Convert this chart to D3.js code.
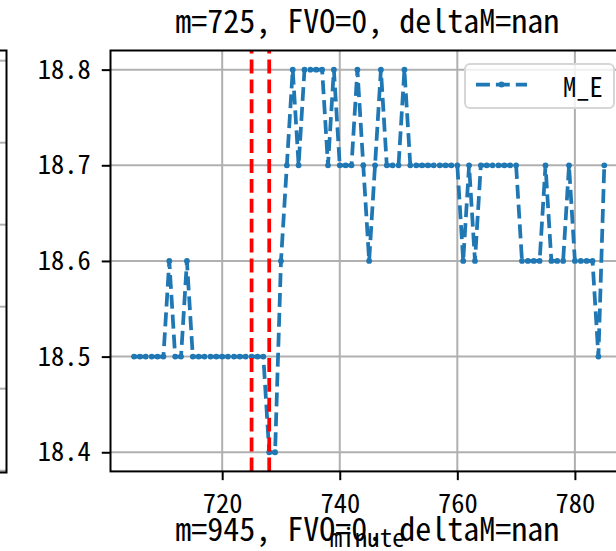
<!DOCTYPE html>
<html>
<head>
<meta charset="utf-8">
<script src="https://cdn.jsdelivr.net/npm/d3@7"></script>
<style>
  html, body { margin: 0; padding: 0; background: #fff; }
  svg { display: block; }
  text { font-family: 'Noto Sans Mono CJK SC', 'Noto Sans CJK SC', 'DejaVu Sans Mono', monospace; fill: #000; }
</style>
</head>
<body>
<svg id="chart" width="616" height="551"></svg>
<script>
// ---- data ----
const minutes = [705,706,707,708,709,710,711,712,713,714,715,716,717,718,719,720,721,722,723,724,
  725,726,727,728,729,730,731,732,733,734,735,736,737,738,739,740,741,742,743,744,745,746,747,748,749,750,
  751,752,753,754,755,756,757,758,759,760,761,762,763,764,765,766,767,768,769,770,771,772,773,774,775,
  776,777,778,779,780,781,782,783,784,785];
const M_E = [18.5,18.5,18.5,18.5,18.5,18.5,18.6,18.5,18.5,18.6,18.5,18.5,18.5,18.5,18.5,18.5,18.5,18.5,18.5,18.5,
  18.5,18.5,18.5,18.4,18.4,18.6,18.7,18.8,18.7,18.8,18.8,18.8,18.8,18.7,18.8,18.7,18.7,18.7,18.8,18.7,18.6,18.7,18.8,18.7,18.7,18.7,
  18.8,18.7,18.7,18.7,18.7,18.7,18.7,18.7,18.7,18.7,18.6,18.7,18.6,18.7,18.7,18.7,18.7,18.7,18.7,18.7,18.6,18.6,18.6,18.6,18.7,
  18.6,18.6,18.6,18.7,18.6,18.6,18.6,18.6,18.5,18.7];
const markLines = [725, 728];
const xTicks = [720, 740, 760, 780];
const yTicks = [18.4, 18.5, 18.6, 18.7, 18.8];
const titleText = "m=725, FVO=0, deltaM=nan";
const nextTitleText = "m=945, FVO=0, deltaM=nan";
const xLabel = "minute";
const seriesName = "M_E";

// ---- layout ----
const svg = d3.select("#chart");
const L = 110.5, R = 627.8, T = 50.5, B = 471.4;
const x = d3.scaleLinear().domain([701, 789]).range([L, R]);
const y = d3.scaleLinear().domain([18.38, 18.82]).range([B, T]);
const blue = "#1f77b4";
const FONT = "'Noto Sans Mono CJK SC', 'Noto Sans CJK SC', 'DejaVu Sans Mono', monospace";

// left neighbour panel (partially visible)
const leftGrid = [60.7, 142.7, 224.7, 306.7, 388.7, 470.7];
svg.append("g").selectAll("line").data(leftGrid).join("line")
  .attr("x1", 0).attr("x2", 6).attr("y1", d => d).attr("y2", d => d)
  .attr("stroke", "#b0b0b0").attr("stroke-width", 2);
svg.append("path").attr("d", `M0,${T}H6.5V${B+1}H0`).attr("fill", "none")
  .attr("stroke", "#000").attr("stroke-width", 2);

// clip for axes
svg.append("defs").append("clipPath").attr("id", "clip")
  .append("rect").attr("x", L).attr("y", T).attr("width", R - L).attr("height", B - T);

// grid
const grid = svg.append("g").attr("clip-path", "url(#clip)");
grid.selectAll(".gx").data(xTicks).join("line")
  .attr("x1", d => x(d)).attr("x2", d => x(d)).attr("y1", T).attr("y2", B)
  .attr("stroke", "#b0b0b0").attr("stroke-width", 2);
grid.selectAll(".gy").data(yTicks).join("line")
  .attr("x1", L).attr("x2", R).attr("y1", d => y(d)).attr("y2", d => y(d))
  .attr("stroke", "#b0b0b0").attr("stroke-width", 2);

// series
const pts = minutes.map((m, i) => [m, M_E[i]]);
const plot = svg.append("g").attr("clip-path", "url(#clip)");
plot.append("path").datum(pts)
  .attr("d", d3.line().x(d => x(d[0])).y(d => y(d[1])))
  .attr("fill", "none").attr("stroke", blue).attr("stroke-width", 3.75)
  .attr("stroke-dasharray", "13.9,6");
plot.selectAll("circle").data(pts).join("circle")
  .attr("cx", d => x(d[0])).attr("cy", d => y(d[1])).attr("r", 2.9).attr("fill", blue);

// red vertical lines
plot.selectAll(".vl").data(markLines).join("line")
  .attr("x1", d => x(d)).attr("x2", d => x(d)).attr("y1", B).attr("y2", T)
  .attr("stroke", "#ff0000").attr("stroke-width", 3.75).attr("stroke-dasharray", "13.9,6");

// axes
const xAxis = svg.append("g").attr("transform", `translate(0,${B})`)
  .call(d3.axisBottom(x).tickValues(xTicks).tickSize(8.75).tickPadding(8).tickFormat(d3.format("d")));
const yAxis = svg.append("g").attr("transform", `translate(${L},0)`)
  .call(d3.axisLeft(y).tickValues(yTicks).tickSize(8.75).tickPadding(11).tickFormat(d3.format(".1f")));
[xAxis, yAxis].forEach(a => {
  a.select(".domain").remove();
  a.selectAll(".tick line").attr("stroke", "#000").attr("stroke-width", 2);
  a.selectAll(".tick text").attr("font-size", 26.5).attr("fill", "#000").style("font-family", FONT);
});
xAxis.selectAll(".tick text").attr("dy", "0.93em");

// frame
svg.append("rect").attr("x", L).attr("y", T).attr("width", R - L).attr("height", B - T)
  .attr("fill", "none").attr("stroke", "#000").attr("stroke-width", 2);

// legend
const lg = svg.append("g");
lg.append("rect").attr("x", 465).attr("y", 64).attr("width", 149).attr("height", 44)
  .attr("rx", 5).attr("fill", "#fff").attr("fill-opacity", 0.8)
  .attr("stroke", "#d6d6d6").attr("stroke-width", 2);
lg.append("line").attr("x1", 476).attr("x2", 527).attr("y1", 84.5).attr("y2", 84.5)
  .attr("stroke", blue).attr("stroke-width", 3.75).attr("stroke-dasharray", "13.9,6");
lg.append("circle").attr("cx", 501.5).attr("cy", 84.5).attr("r", 2.9).attr("fill", blue);
lg.append("text").attr("x", 563).attr("y", 85).attr("dominant-baseline", "central")
  .attr("font-size", 26.5).text(seriesName);

// titles and labels
const cx = (L + R) / 2 - 2;
svg.append("text").attr("x", cx).attr("y", 33).attr("text-anchor", "middle")
  .attr("font-size", 32).text(titleText);
svg.append("text").attr("x", cx).attr("y", 547).attr("text-anchor", "middle")
  .attr("font-size", 25).text(xLabel);
svg.append("text").attr("x", cx).attr("y", 541).attr("text-anchor", "middle")
  .attr("font-size", 32).text(nextTitleText);
</script>
</body>
</html>
